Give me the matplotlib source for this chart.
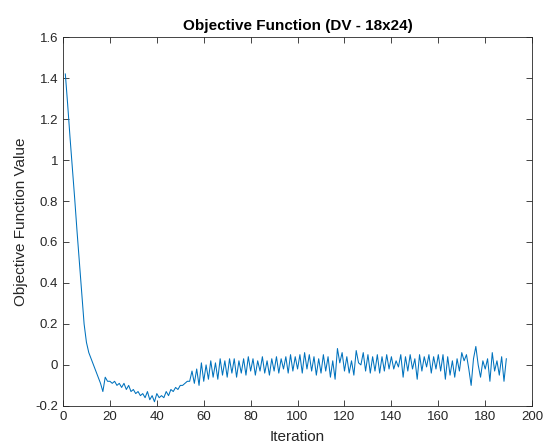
import matplotlib
matplotlib.use("Agg")
import matplotlib.pyplot as plt
import numpy as np

# objective value per iteration
drop = [1.42, 1.27, 1.11, 0.96, 0.81, 0.65, 0.50, 0.35, 0.20, 0.11,
        0.06, 0.03, 0.00, -0.03, -0.06, -0.09, -0.13]
settle = [-0.06, -0.08, -0.08, -0.09, -0.08, -0.10, -0.09, -0.11, -0.09, -0.12,
          -0.10, -0.13, -0.12, -0.14, -0.13, -0.15, -0.14, -0.16, -0.13, -0.17,
          -0.15, -0.18, -0.14,
          -0.16, -0.15, -0.16, -0.13, -0.15, -0.12, -0.13, -0.11, -0.12, -0.10,
          -0.10, -0.09, -0.08, -0.08, -0.03, -0.09, -0.02]
oscillate = [-0.10, 0.01, -0.08, 0.00, -0.07, 0.02, -0.06, 0.01, -0.07, 0.03,
             -0.05, 0.02, -0.06, 0.03, -0.04, 0.03, -0.06, 0.02, -0.04, 0.03,
             -0.05, 0.04, -0.03,
             0.03, -0.05, 0.02, -0.03, 0.04, -0.04, 0.02, -0.05, 0.03, -0.03,
             0.04, -0.04, 0.03, -0.02, 0.04, -0.04, 0.05, -0.03, 0.04, -0.02,
             0.05, -0.04, 0.06, -0.02, 0.05, -0.03, 0.04, -0.05, 0.03, -0.04,
             0.05, -0.03, 0.04, -0.06, 0.02, -0.07, 0.08, 0.01, 0.06, -0.03,
             0.04, -0.04, 0.02, -0.05, 0.07, 0.01, 0.00, 0.06, -0.03, 0.05,
             -0.04, 0.04, -0.03, 0.05, -0.04, 0.04, -0.03, 0.05, -0.02, 0.04,
             -0.02, 0.02, -0.01, 0.05, -0.06, 0.04, -0.03, 0.05, -0.02, 0.03,
             -0.07, 0.05, -0.03, 0.04, -0.01, 0.05, -0.04, 0.04, -0.02, 0.05,
             -0.03, 0.05, -0.07, 0.04, -0.05, 0.02, -0.06, 0.03, -0.03, 0.06,
             0.02, 0.05, -0.02, -0.10, 0.03, 0.09, 0.00, -0.06, 0.02, -0.02,
             0.03, -0.08, 0.06, -0.03, 0.02, -0.05, 0.04, -0.08, 0.03]

values = drop + settle + oscillate
iterations = np.arange(1, len(values) + 1)

xticks = list(range(0, 201, 20))
yticks = [-0.2, 0, 0.2, 0.4, 0.6, 0.8, 1, 1.2, 1.4, 1.6]
ylabels = ["-0.2", "0", "0.2", "0.4", "0.6", "0.8", "1", "1.2", "1.4", "1.6"]

plt.rcParams['font.family'] = ['Liberation Sans', 'DejaVu Sans']
axcol = "#262626"

fig = plt.figure(figsize=(5.43, 4.47), dpi=100)
ax = fig.add_axes([0.116, 0.092, 0.864, 0.825])
ax.plot(iterations, values, color="#0072BD", linewidth=0.75)

ax.set_xlim(0, 200)
ax.set_ylim(-0.2, 1.6)
ax.set_xticks(xticks)
ax.set_yticks(yticks)
ax.set_yticklabels(ylabels)
ax.tick_params(direction="in", top=True, right=True, length=4, width=0.6,
               colors=axcol, labelsize=9.5, labelcolor=axcol)
for s in ax.spines.values():
    s.set_color(axcol)
    s.set_linewidth(0.6)

ax.set_title("Objective Function (DV - 18x24)", fontsize=11, fontweight="bold", pad=5)
ax.set_xlabel("Iteration", fontsize=11, color=axcol, labelpad=5)
ax.set_ylabel("Objective Function Value", fontsize=11, color=axcol, labelpad=5)

fig.savefig("out.png", dpi=100)
